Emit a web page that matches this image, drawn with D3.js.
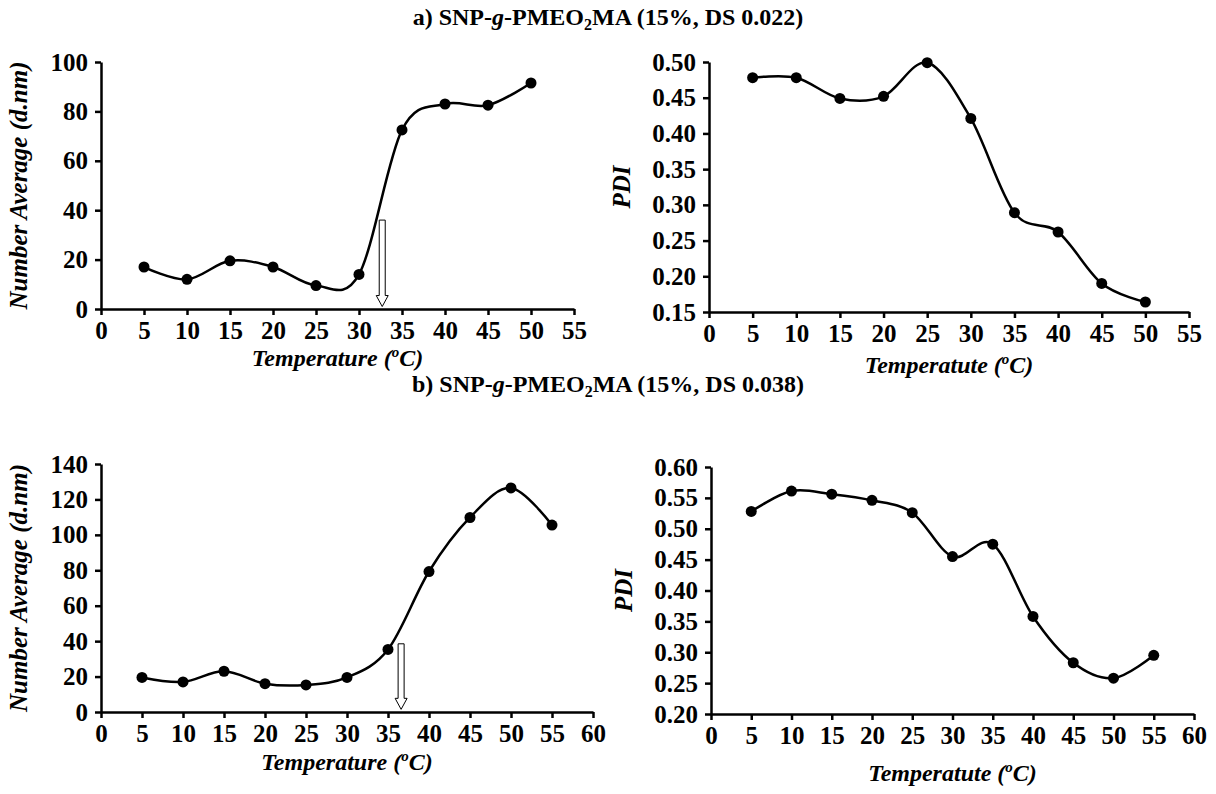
<!DOCTYPE html>
<html>
<head>
<meta charset="utf-8">
<script src="https://cdn.jsdelivr.net/npm/d3@7"></script>
<style>
  html, body { margin: 0; padding: 0; background: #fff; }
  svg { display: block; }
</style>
</head>
<body>
<svg id="chart" width="1216" height="794"></svg>
<script>
// Temperatures (°C) at which each sample was measured
const tempsA = [5, 10, 15, 20, 25, 30, 35, 40, 45, 50];
const tempsB = [5, 10, 15, 20, 25, 30, 35, 40, 45, 50, 55];

// Number-average hydrodynamic diameter (d.nm)
const sizeA = [17, 12, 19.5, 17, 9.5, 14, 72.5, 83, 82.5, 91.5];
const sizeB = [19.5, 17, 23, 16, 15.3, 19.5, 35.3, 79.3, 109.8, 126.5, 105.5];

// Polydispersity index
const pdiA = [0.478, 0.478, 0.449, 0.452, 0.499, 0.421, 0.289, 0.262, 0.190, 0.164];
const pdiB = [0.528, 0.561, 0.556, 0.546, 0.526, 0.455, 0.475, 0.358, 0.283, 0.258, 0.295];

// Axis ticks
const xTicksA = [0, 5, 10, 15, 20, 25, 30, 35, 40, 45, 50, 55];
const xTicksB = [0, 5, 10, 15, 20, 25, 30, 35, 40, 45, 50, 55, 60];
const sizeTicksA = [0, 20, 40, 60, 80, 100];
const sizeTicksB = [0, 20, 40, 60, 80, 100, 120, 140];
const pdiTicksA = [0.15, 0.20, 0.25, 0.30, 0.35, 0.40, 0.45, 0.50];
const pdiTicksB = [0.20, 0.25, 0.30, 0.35, 0.40, 0.45, 0.50, 0.55, 0.60];

// Transition markers: [temperature, arrow top, arrow tip] in data units
const arrowA = [32.7, 36, 1];
const arrowB = [36.6, 38.5, 1.5];

const SERIF = "'Liberation Serif', 'Times New Roman', 'DejaVu Serif', serif";
const svg = d3.select("#chart");

// Section titles
function sectionTitle(y, letter, ds) {
  const t = svg.append("text")
    .attr("x", 608).attr("y", y)
    .attr("text-anchor", "middle")
    .style("font-family", SERIF)
    .style("font-weight", "bold")
    .style("font-size", "24px");
  t.append("tspan").text(letter + ") SNP-");
  t.append("tspan").style("font-style", "italic").text("g");
  t.append("tspan").text("-PMEO");
  t.append("tspan").style("font-size", "16px").attr("dy", 5).text("2");
  t.append("tspan").attr("dy", -5).text("MA (15%, DS " + ds + ")");
}
sectionTitle(25, "a", "0.022");
sectionTitle(392, "b", "0.038");

function panel(cfg) {
  const x = d3.scaleLinear().domain([cfg.xTicks[0], cfg.xTicks[cfg.xTicks.length - 1]]).range([cfg.left, cfg.right]);
  const y = d3.scaleLinear().domain([cfg.yTicks[0], cfg.yTicks[cfg.yTicks.length - 1]]).range([cfg.bottom, cfg.top]);
  const g = svg.append("g");

  const xAxis = g.append("g")
    .attr("transform", `translate(0,${cfg.bottom})`)
    .call(d3.axisBottom(x).tickValues(cfg.xTicks).tickSize(6).tickSizeOuter(0).tickPadding(6).tickFormat(d3.format("d")));
  const yAxis = g.append("g")
    .attr("transform", `translate(${cfg.left},0)`)
    .call(d3.axisLeft(y).tickValues(cfg.yTicks).tickSize(6).tickSizeOuter(0).tickPadding(7).tickFormat(cfg.yFormat));

  [xAxis, yAxis].forEach(a => {
    a.select(".domain").attr("stroke", "#000").attr("stroke-width", 2.5);
    a.selectAll(".tick line").attr("stroke", "#000").attr("stroke-width", 2.5);
    a.selectAll(".tick text")
      .style("font-family", SERIF)
      .style("font-weight", "bold")
      .style("font-size", "25px")
      .attr("fill", "#000");
  });

  // Smoothed series line
  const pts = cfg.xs.map((t, i) => [t, cfg.ys[i]]);
  g.append("path")
    .datum(pts)
    .attr("fill", "none")
    .attr("stroke", "#000")
    .attr("stroke-width", 2.5)
    .attr("d", d3.line().x(d => x(d[0])).y(d => y(d[1])).curve(d3.curveCatmullRom.alpha(0)));

  g.selectAll("circle.pt")
    .data(pts)
    .join("circle")
    .attr("class", "pt")
    .attr("cx", d => x(d[0]))
    .attr("cy", d => y(d[1]))
    .attr("r", 5.5)
    .attr("fill", "#000");

  // Hollow down arrow marking the transition temperature
  if (cfg.arrow) {
    const [at, top, tip] = cfg.arrow;
    const cx = x(at), yTop = y(top), yTip = y(tip);
    const sw = 3, hw = 6, hh = 11;
    const path = d3.path();
    path.moveTo(cx - sw, yTop);
    path.lineTo(cx + sw, yTop);
    path.lineTo(cx + sw, yTip - hh);
    path.lineTo(cx + hw, yTip - hh);
    path.lineTo(cx, yTip);
    path.lineTo(cx - hw, yTip - hh);
    path.lineTo(cx - sw, yTip - hh);
    path.closePath();
    g.append("path").attr("d", path.toString())
      .attr("fill", "#fff").attr("stroke", "#000").attr("stroke-width", 1);
  }

  // Axis titles
  const xt = g.append("text")
    .attr("x", (cfg.left + cfg.right) / 2)
    .attr("y", cfg.bottom + cfg.xTitleOffset)
    .attr("text-anchor", "middle")
    .style("font-family", SERIF)
    .style("font-weight", "bold").style("font-style", "italic").style("font-size", "24px");
  xt.append("tspan").text(cfg.xTitle + " (");
  xt.append("tspan").style("font-size", "15px").attr("dy", -9).text("o");
  xt.append("tspan").attr("dy", 9).text("C)");

  g.append("text")
    .attr("transform", `translate(${cfg.yTitleX},${(cfg.top + cfg.bottom) / 2}) rotate(-90)`)
    .attr("text-anchor", "middle")
    .style("font-family", SERIF)
    .style("font-weight", "bold").style("font-style", "italic").style("font-size", "25px")
    .text(cfg.yTitle);
}

panel({
  xs: tempsA, ys: sizeA, xTicks: xTicksA, yTicks: sizeTicksA, yFormat: d3.format("d"),
  left: 101, right: 574, top: 62, bottom: 309,
  xTitle: "Temperature", xTitleOffset: 57,
  yTitle: "Number Average (d.nm)", yTitleX: 27,
  arrow: arrowA
});
panel({
  xs: tempsA, ys: pdiA, xTicks: xTicksA, yTicks: pdiTicksA, yFormat: d3.format(".2f"),
  left: 709, right: 1189, top: 62, bottom: 312,
  xTitle: "Temperatute", xTitleOffset: 61,
  yTitle: "PDI", yTitleX: 630
});
panel({
  xs: tempsB, ys: sizeB, xTicks: xTicksB, yTicks: sizeTicksB, yFormat: d3.format("d"),
  left: 101, right: 593, top: 464, bottom: 712,
  xTitle: "Temperature", xTitleOffset: 58,
  yTitle: "Number Average (d.nm)", yTitleX: 27,
  arrow: arrowB
});
panel({
  xs: tempsB, ys: pdiB, xTicks: xTicksB, yTicks: pdiTicksB, yFormat: d3.format(".2f"),
  left: 711, right: 1194, top: 467, bottom: 714,
  xTitle: "Temperatute", xTitleOffset: 67,
  yTitle: "PDI", yTitleX: 632
});
</script>
</body>
</html>
